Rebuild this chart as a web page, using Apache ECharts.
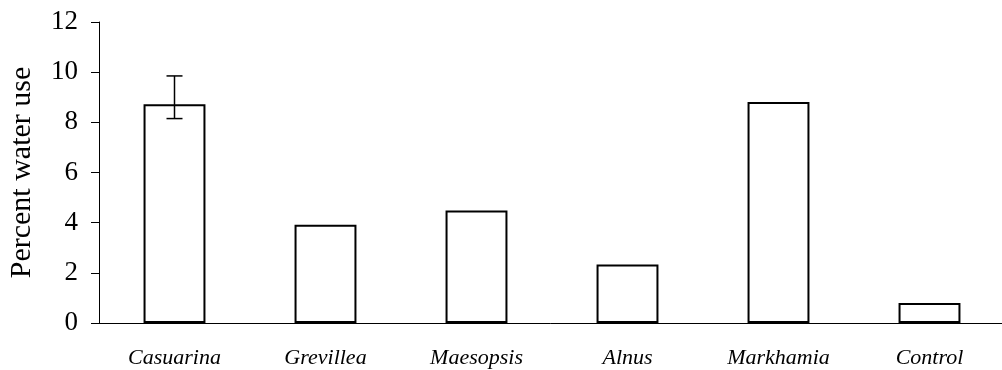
<!DOCTYPE html>
<html>
<head>
<meta charset="utf-8">
<script src="https://cdn.jsdelivr.net/npm/echarts@6/dist/echarts.min.js"></script>
<style>
  html, body { margin: 0; padding: 0; background: #fff; }
  #Chart { width: 1002px; height: 370px; }
</style>
</head>
<body>
<div id="Chart"></div>
<script>
// 数据
var categories = ["Casuarina", "Grevillea", "Maesopsis", "Alnus", "Markhamia", "Control"];
var waterUse = [8.72, 3.92, 4.49, 2.33, 8.81, 0.80];
var errLow = [8.15, null, null, null, null, null];
var errHigh = [9.85, null, null, null, null, null];
var yTicks = [0, 2, 4, 6, 8, 10, 12];

var lineColor = "#000";
var fontFamily = "'Liberation Serif', 'DejaVu Serif', serif";

var errData = [];
for (var i = 0; i < categories.length; i++) {
    if (errLow[i] != null) errData.push([i, errLow[i], errHigh[i]]);
}

var myChart = echarts.init(document.getElementById("Chart"));
var option = {
    animation: false,
    grid: {
        left: 99,
        top: 22,
        width: 906,
        height: 301,
        containLabel: false,
        outerBoundsMode: 'none'
    },
    xAxis: {
        type: 'category',
        data: categories,
        axisLine: { lineStyle: { color: lineColor, width: 1 } },
        axisTick: { length: 7, lineStyle: { color: lineColor } },
        axisLabel: {
            margin: 24,
            color: '#000',
            fontFamily: fontFamily,
            fontStyle: 'italic',
            fontSize: 22
        }
    },
    yAxis: {
        type: 'value',
        min: yTicks[0],
        max: yTicks[yTicks.length - 1],
        interval: 2,
        name: 'Percent water use',
        nameLocation: 'middle',
        nameGap: 62,
        nameTextStyle: {
            color: '#000',
            fontFamily: fontFamily,
            fontSize: 30
        },
        axisLine: { show: true, lineStyle: { color: lineColor, width: 1 } },
        axisTick: { show: true, length: 8, lineStyle: { color: lineColor } },
        axisLabel: {
            margin: 21,
            color: '#000',
            fontFamily: fontFamily,
            fontSize: 27
        },
        splitLine: { show: false }
    },
    series: [
        {
            type: 'bar',
            data: waterUse,
            barWidth: '41%',
            itemStyle: {
                color: '#fff',
                borderColor: lineColor,
                borderWidth: 2
            }
        },
        {
            type: 'custom',
            data: errData,
            z: 10,
            renderItem: function (params, api) {
                var lo = api.coord([api.value(0), api.value(1)]);
                var hi = api.coord([api.value(0), api.value(2)]);
                var half = 8;
                var style = { stroke: lineColor, lineWidth: 1.5 };
                return {
                    type: 'group',
                    children: [
                        { type: 'line', shape: { x1: hi[0], y1: hi[1], x2: lo[0], y2: lo[1] }, style: style },
                        { type: 'line', shape: { x1: hi[0] - half, y1: hi[1], x2: hi[0] + half, y2: hi[1] }, style: style },
                        { type: 'line', shape: { x1: lo[0] - half, y1: lo[1], x2: lo[0] + half, y2: lo[1] }, style: style }
                    ]
                };
            }
        }
    ]
};
myChart.setOption(option);
window.addEventListener("resize", function () {
    myChart.resize();
});
</script>
</body>
</html>
